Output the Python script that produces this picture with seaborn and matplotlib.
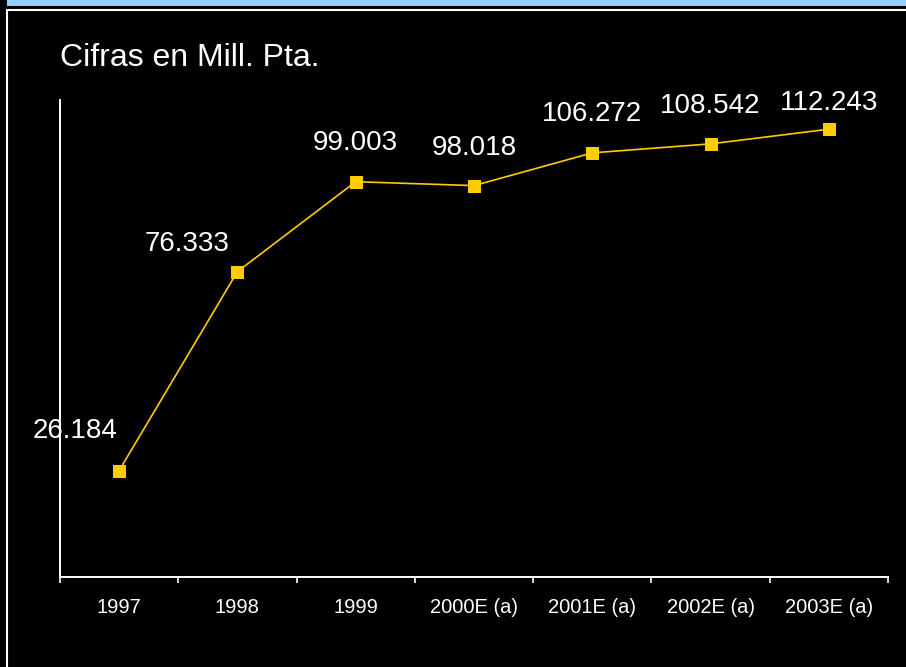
import matplotlib
matplotlib.use("Agg")
import matplotlib.pyplot as plt
from matplotlib.patches import Rectangle
from matplotlib.lines import Line2D
import seaborn as sns
import pandas as pd

# Datos
periodos = ["1997", "1998", "1999", "2000E (a)", "2001E (a)", "2002E (a)", "2003E (a)"]
valores = [26.184, 76.333, 99.003, 98.018, 106.272, 108.542, 112.243]
etiquetas = ["26.184", "76.333", "99.003", "98.018", "106.272", "108.542", "112.243"]
titulo = "Cifras en Mill. Pta."

# Desplazamiento de cada etiqueta respecto a su punto (px)
desplazamientos = [(-44, 40), (-50, 28), (0, 39), (0, 38), (0, 39), (0, 38), (0, 26)]

sns.set_style("dark")
plt.rcParams["font.family"] = ["Liberation Sans", "DejaVu Sans"]

W, H = 906, 667
fig = plt.figure(figsize=(W / 100, H / 100), dpi=100, facecolor="black")
ax = fig.add_axes([60 / W, (H - 577) / H, (888 - 60) / W, (577 - 100) / H])
ax.set_facecolor("black")

df = pd.DataFrame({"periodo": periodos, "valor": valores})
sns.lineplot(data=df, x="periodo", y="valor", sort=False, ax=ax,
             color="#FFCC00", linewidth=1.2, marker="s", markersize=9,
             markeredgecolor="#FFCC00", markerfacecolor="#FFCC00")

px2pt = 0.72
for i, (v, t, (dx, dy)) in enumerate(zip(valores, etiquetas, desplazamientos)):
    ax.annotate(t, (i, v), xytext=(dx * px2pt, dy * px2pt), textcoords="offset points",
                ha="center", va="center", color="white", fontsize=20)

ax.set_xlim(-0.5, len(periodos) - 0.5)
ax.set_ylim(-0.65, 119.6)
ax.set_xlabel("")
ax.set_ylabel("")
ax.set_yticks([])
ax.grid(False)

ax.set_xticks(range(len(periodos)))
ax.set_xticklabels(periodos)
ax.set_xticks([k - 0.5 for k in range(len(periodos) + 1)], minor=True)
ax.tick_params(axis="x", which="major", bottom=True, length=0, pad=15,
               labelsize=14.5, colors="white")
ax.tick_params(axis="x", which="minor", bottom=True, length=4.5, width=1.2,
               color="white", direction="out")

for s in ["top", "right"]:
    ax.spines[s].set_visible(False)
for s in ["left", "bottom"]:
    ax.spines[s].set_visible(True)
    ax.spines[s].set_color("white")
    ax.spines[s].set_linewidth(1.4)

fig.text(60 / W, 1 - 58 / H, titulo, color="white", fontsize=23, ha="left", va="center")

# Marco de la diapositiva
fig.add_artist(Rectangle((7 / W, 1 - 6 / H), 1 - 7 / W, 6 / H, transform=fig.transFigure,
                         facecolor="#99CCFF", edgecolor="none"))
fig.add_artist(Line2D([6.5 / W, 1], [1 - 9.5 / H, 1 - 9.5 / H], transform=fig.transFigure,
                      color="white", linewidth=1.5))
fig.add_artist(Line2D([6.5 / W, 6.5 / W], [0, 1 - 9.5 / H], transform=fig.transFigure,
                      color="white", linewidth=1.5))

fig.savefig("out.png", dpi=100, facecolor="black")
